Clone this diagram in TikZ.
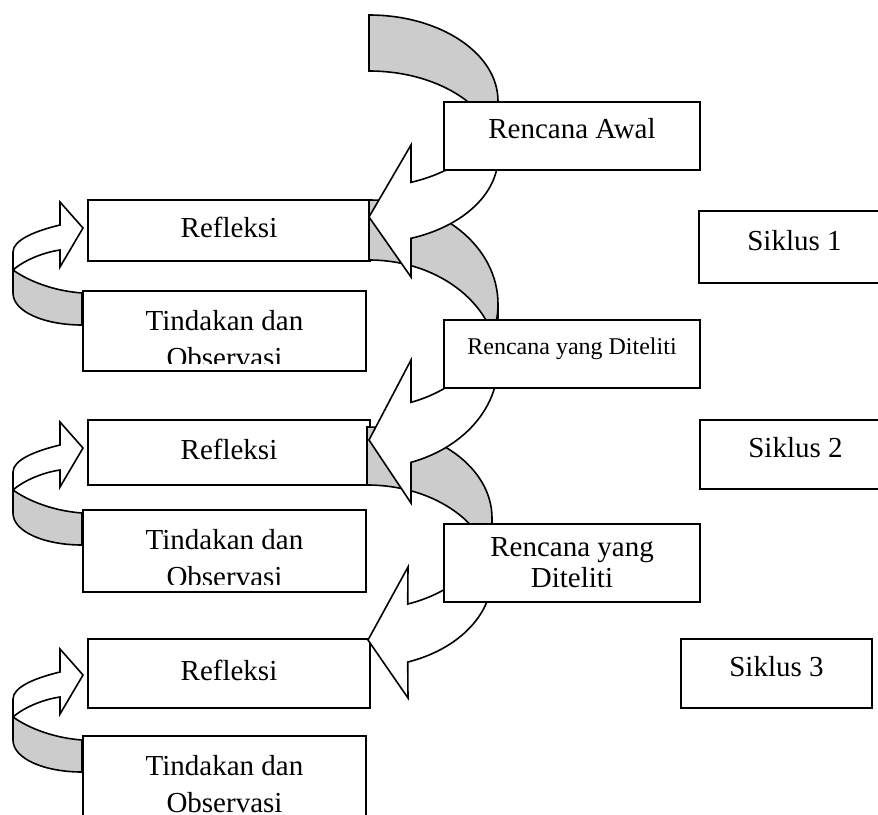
\documentclass[tikz,border=0pt]{standalone}
\usepackage{fontspec}
\setmainfont{Liberation Serif}
\usepackage{xcolor}

\definecolor{abu}{RGB}{204,204,204}

\tikzset{
  kotak/.style={draw, fill=white, line width=1pt, inner sep=0pt, anchor=north west,
    font=\fontsize{14.5}{18.5}\selectfont},
  satubaris/.style={kotak, text height=10pt, text depth=7pt},
  refleksi/.style={satubaris, minimum width=141pt, text depth=3.5pt},
  rencana/.style={kotak, minimum width=128pt},
  siklus/.style={satubaris, minimum width=95.5pt},
  tindakan/.style={kotak, minimum width=141.5pt, path picture={
      \clip (path picture bounding box.north west)
        rectangle ([yshift=4pt]path picture bounding box.south east);
      \node[anchor=north, inner sep=0pt, minimum size=0pt, align=center,
        font=\fontsize{14.5}{18.5}\selectfont]
        (isi) at ([yshift=-9pt]path picture bounding box.north) {#1};
    }},
  belakang/.style={draw, fill=abu, line width=0.8pt},
  depan/.style={draw, fill=white, line width=0.8pt},
}

\begin{document}
\begin{tikzpicture}[x=0.5pt, y=-0.5pt]

    \useasboundingbox (0,0) rectangle (878,814);

    % kotak kiri: refleksi dan tindakan
    \node[refleksi, minimum height=30.5pt] (refl1) at (87,199) {Refleksi};
    \node[tindakan={Tindakan dan\\Observasi}, minimum height=40pt] (tind1) at (82,290) {};
    \node[refleksi, minimum height=32.5pt] (refl2) at (87,419) {Refleksi};
    \node[tindakan={Tindakan dan\\Observasi}, minimum height=41pt] (tind2) at (82,509) {};
    \node[refleksi, minimum height=34.5pt] (refl3) at (87,638) {Refleksi};
    \node[tindakan={Tindakan dan\\Observasi}, minimum height=48pt] (tind3) at (82,735) {};

    % putaran kiri siklus 1
    \begin{scope}[shift={(0,199)}]
    \draw[depan] (13,71) -- (13,53) .. controls (13,41) and (35,32) .. (60,26) -- (60,3) -- (83,29)
        -- (60,68) -- (60,51) .. controls (40,54) and (22,63) .. (13,71) -- cycle;
    \draw[belakang] (13,71) -- (13,94) .. controls (13,113) and (45,126) .. (82,126) -- (82,94)
        .. controls (55,92) and (30,83) .. (13,71) -- cycle;
    \end{scope}

    % putaran kiri siklus 2
    \begin{scope}[shift={(0,419)}]
    \draw[depan] (13,71) -- (13,53) .. controls (13,41) and (35,32) .. (60,26) -- (60,3) -- (83,29)
        -- (60,68) -- (60,51) .. controls (40,54) and (22,63) .. (13,71) -- cycle;
    \draw[belakang] (13,71) -- (13,94) .. controls (13,113) and (45,126) .. (82,126) -- (82,94)
        .. controls (55,92) and (30,83) .. (13,71) -- cycle;
    \end{scope}

    % putaran kiri siklus 3
    \begin{scope}[shift={(0,646)}]
    \draw[depan] (13,71) -- (13,53) .. controls (13,41) and (35,32) .. (60,26) -- (60,3) -- (83,29)
        -- (60,68) -- (60,51) .. controls (40,54) and (22,63) .. (13,71) -- cycle;
    \draw[belakang] (13,71) -- (13,94) .. controls (13,113) and (45,126) .. (82,126) -- (82,94)
        .. controls (55,92) and (30,83) .. (13,71) -- cycle;
    \end{scope}

    % panah besar ke refleksi 3
    \draw[belakang] (367,427) arc[start angle=-90, end angle=0, x radius=125, y radius=91]
        -- ++(0,58) arc[start angle=0, end angle=-90, x radius=125, y radius=91] -- cycle;
    \draw[depan] (492,576) arc[start angle=0, end angle=71, x radius=125, y radius=91]
        -- (408,698) -- (368,640) -- (408,567)
        -- ([shift={(367,518)}]71:125 and 91) arc[start angle=71, end angle=0, x radius=125, y radius=91] -- cycle;

    % panah besar ke refleksi 2
    \draw[belakang] (369,200) arc[start angle=-90, end angle=0, x radius=129, y radius=104]
        -- ++(0,60) arc[start angle=0, end angle=-90, x radius=129, y radius=104] -- cycle;
    \draw[depan] (498,364) arc[start angle=0, end angle=71, x radius=129, y radius=104]
        -- (411,503) -- (369,440) -- (411,360)
        -- ([shift={(369,304)}]71:129 and 104) arc[start angle=71, end angle=0, x radius=129, y radius=104] -- cycle;

    % panah besar ke refleksi 1
    \draw[belakang] (369,15) arc[start angle=-90, end angle=0, x radius=129, y radius=86]
        -- ++(0,56) arc[start angle=0, end angle=-90, x radius=129, y radius=86] -- cycle;
    \draw[depan] (498,157) arc[start angle=0, end angle=71, x radius=129, y radius=86]
        -- (411,277) -- (369,217) -- (411,145)
        -- ([shift={(369,101)}]71:129 and 86) arc[start angle=71, end angle=0, x radius=129, y radius=86] -- cycle;

    % kotak rencana
    \node[rencana, satubaris, minimum height=34pt, text depth=8pt] (awal) at (443,101) {Rencana Awal};
    \node[rencana, minimum height=34pt, font=\fontsize{12}{14}\selectfont, text height=8pt, text depth=8pt]
        (renc1) at (443,319) {Rencana yang Diteliti};
    \node[rencana, minimum height=39pt, align=center, font=\fontsize{14.5}{15.5}\selectfont]
        (renc2) at (443,523) {Rencana yang\\Diteliti};

    % kotak siklus
    \node[siklus, minimum height=36pt] (sik1) at (698,210) {Siklus 1};
    \node[siklus, minimum height=34.5pt] (sik2) at (699,419) {Siklus 2};
    \node[siklus, minimum height=34.5pt] (sik3) at (680,638) {Siklus 3};

\end{tikzpicture}
\end{document}
